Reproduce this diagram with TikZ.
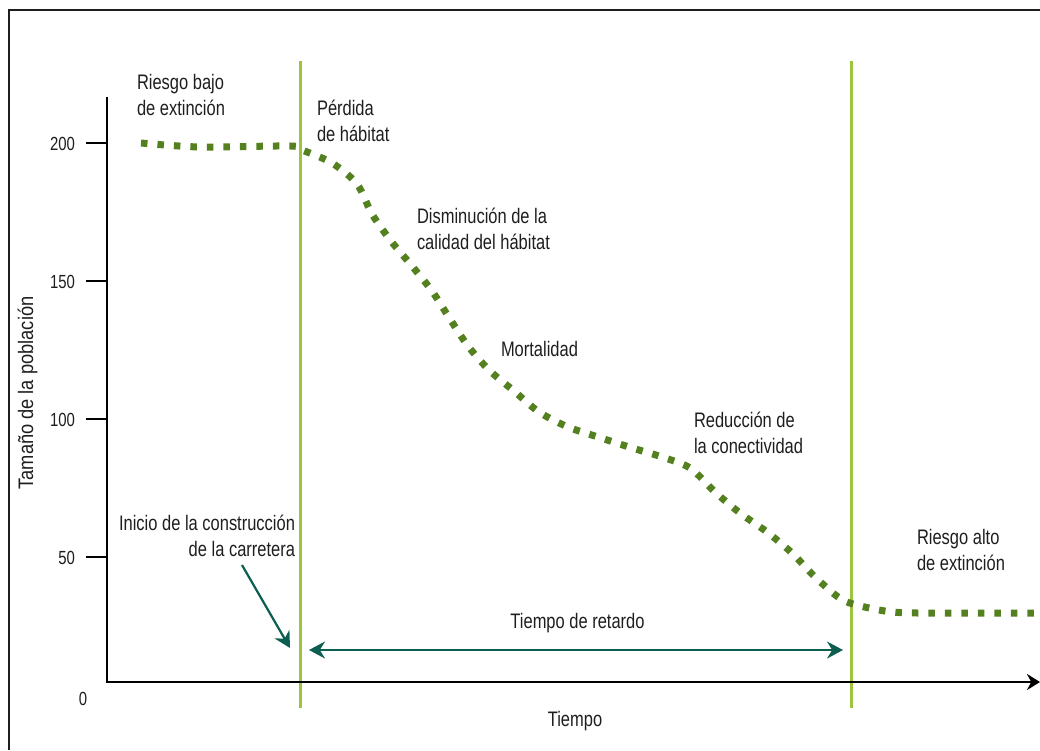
\documentclass[tikz,border=0pt]{standalone}
\usepackage{fontspec}
\setmainfont{Liberation Sans}[FakeStretch=0.785]
\newfontfamily\ylfont{Liberation Sans}[FakeStretch=0.87]
\usetikzlibrary{arrows.meta}
\definecolor{curvegreen}{RGB}{84,128,32}
\definecolor{limegreen}{RGB}{156,196,60}
\definecolor{arrowteal}{RGB}{12,94,80}
\definecolor{inkgray}{RGB}{30,30,30}
\begin{document}
\begin{tikzpicture}[x=1pt,y=-1pt,
  every node/.style={inner sep=0pt, outer sep=0pt, text=inkgray, font=\fontsize{21}{25.8}\selectfont},
  lbl/.style={anchor=base west, align=left},
  ticklbl/.style={font=\fontsize{19}{22}\selectfont},
  axisline/.style={line width=2.2pt, black, line join=miter},
  tickline/.style={line width=2.2pt, black},
  phase/.style={line width=3pt, limegreen},
  popcurve/.style={line width=7pt, curvegreen, dash pattern=on 6.5pt off 10pt},
  tealarrow/.style={line width=2.2pt, arrowteal, >={Stealth[length=16pt,width=17pt]}}
]
\useasboundingbox (0,0) rectangle (1040,750);
% frame
\draw[line width=1.6pt, inkgray] (1040,10) -- (9,10) -- (9,750);
% phase lines
\coordinate (p1top) at (300,61); \coordinate (p1bot) at (300,708);
\coordinate (p2top) at (851,61); \coordinate (p2bot) at (851,708);
\draw[phase] (p1top) -- (p1bot);
\draw[phase] (p2top) -- (p2bot);
% axes
\coordinate (ytop) at (107,97); \coordinate (origin) at (107,682); \coordinate (xend) at (1040,682);
\draw[axisline, -{Stealth[length=13pt,width=16pt]}] (ytop) -- (origin) -- (xend);
% ticks
\foreach \v/\y in {200/143,150/281,100/419,50/557}{
  \draw[tickline] (86,\y) -- (107,\y);
  \node[ticklbl, anchor=base east] (tick\v) at (75,\y+7.5) {\v};
}
\node[ticklbl, anchor=base] (tick0) at (83,705.5) {0};
% curve
\draw[popcurve] plot[smooth, tension=0.5] coordinates {
 (141,143) (200,147) (290,146) (302,150) (332,163) (357,184) (372,214)
 (391,241) (412,266) (432,291) (450,319) (468,346) (489,370) (514,391)
 (539,412) (568,427) (598,437) (629,447) (662,457) (690,468) (715,492)
 (740,513) (767,532) (792,553) (814,576) (838,597) (853,604) (885,611)
 (918,613) (1040,613)};
% labels (anchor on baseline of last line)
\node[lbl] (bajo) at (137,115) {Riesgo bajo\\de extinción};
\node[lbl] (perdida) at (317,141) {Pérdida\\de hábitat};
\node[lbl] (calidad) at (417,249) {Disminución de la\\calidad del hábitat};
\node[lbl] (mortal) at (501,356) {Mortalidad};
\node[lbl] (conect) at (694,453) {Reducción de\\la conectividad};
\node[lbl] (alto) at (917,570) {Riesgo alto\\de extinción};
\node[anchor=base east, align=right] (inicio) at (295,556) {Inicio de la construcción\\de la carretera};
\node[anchor=base] (retardo) at (577.5,628) {Tiempo de retardo};
\node[anchor=base] (tiempo) at (575,726) {Tiempo};
\node[anchor=base, rotate=90, font=\ylfont\fontsize{21}{25}\selectfont] (ylab) at (33,393) {Tamaño de la población};
% arrows
\coordinate (inicioTail) at (242,565); \coordinate (inicioTip) at (290,648);
\draw[tealarrow, ->] (inicioTail) -- (inicioTip);
\coordinate (retL) at (309,650); \coordinate (retR) at (843,650);
\draw[tealarrow, <->] (retL) -- (retR);
\end{tikzpicture}
\end{document}
